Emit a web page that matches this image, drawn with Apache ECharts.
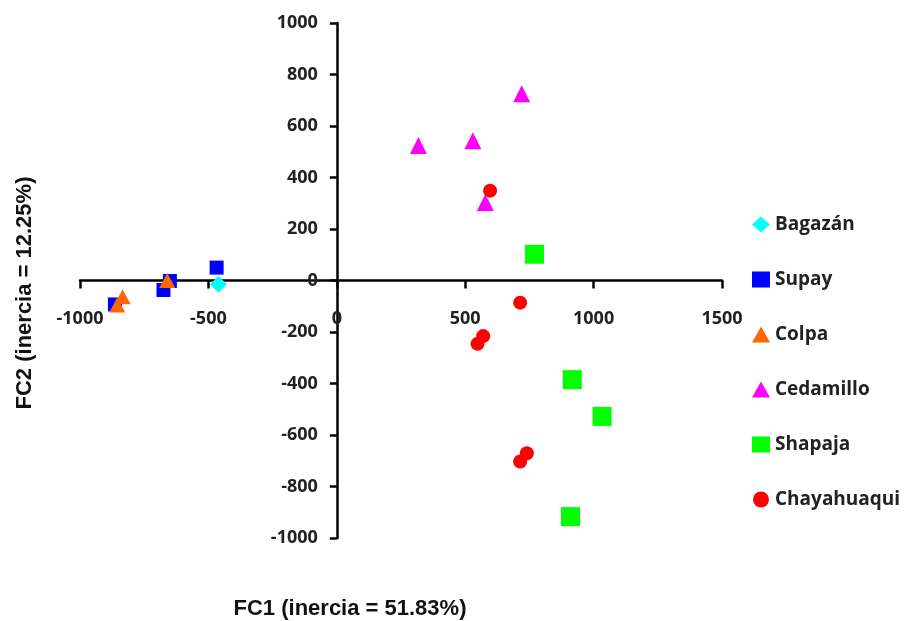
<!DOCTYPE html>
<html>
<head>
<meta charset="utf-8">
<script src="https://cdn.jsdelivr.net/npm/echarts@6/dist/echarts.min.js"></script>
<style>html,body{margin:0;padding:0;background:#fff}#c{width:905px;height:621px}</style>
</head>
<body>
<div id="c"></div>
<script>
const seriesNames = ['Bagazán', 'Supay', 'Colpa', 'Cedamillo', 'Shapaja', 'Chayahuaqui'];
const bagazan = [[-461, -15]];
const supay = [[-468, 50], [-675, -37], [-650, -2], [-864, -93]];
const colpa = [[-660, 0], [-834, -63], [-855, -95]];
const cedamillo = [[720, 725], [318, 524], [530, 543], [578, 303]];
const shapaja = [[770, 102], [917, -385], [1033, -528], [910, -917]];
const chayahuaqui = [[597, 349], [714, -86], [570, -216], [548, -246], [740, -671], [714, -703]];
const xTitle = 'FC1 (inercia = 51.83%)';
const yTitle = 'FC2 (inercia = 12.25%)';

const allData = [bagazan, supay, colpa, cedamillo, shapaja, chayahuaqui];
const colors = ['#00FFFF', '#0000FF', '#FF6600', '#FF00FF', '#00FF00', '#FF0000'];
const symbols = ['diamond', 'rect', 'triangle', 'triangle', 'rect', 'circle'];
const sizes = [17, 14, [16, 15], 17, 19, 14];

const chart = echarts.init(document.getElementById('c'), null, {renderer: 'canvas'});
const labelFont = {fontFamily: 'Open Sans', fontWeight: 'bold', fontSize: 18, color: '#222'};
const fmt = v => String(v);
chart.setOption({
  animation: false,
  backgroundColor: '#fff',
  grid: {left: 80, right: 183, top: 23, bottom: 83},
  xAxis: {
    type: 'value', min: -1000, max: 1500, interval: 500,
    axisLine: {onZero: false, lineStyle: {color: '#000', width: 2.5}},
    axisTick: {show: true, length: 8, lineStyle: {color: '#000', width: 2.5}},
    axisLabel: Object.assign({margin: 29, formatter: fmt}, labelFont),
    splitLine: {show: false}
  },
  yAxis: {
    type: 'value', min: -1000, max: 1000, interval: 200,
    axisLine: {onZero: false, lineStyle: {color: '#000', width: 2.5}},
    axisTick: {show: true, length: 7, lineStyle: {color: '#000', width: 2.5}},
    axisLabel: Object.assign({margin: 19, formatter: fmt}, labelFont),
    splitLine: {show: false}
  },
  legend: {
    orient: 'vertical', left: 747, top: 210, itemGap: 36,
    itemWidth: 18, itemHeight: 16,
    textStyle: {fontFamily: 'Open Sans', fontWeight: 'bold', fontSize: 19, color: '#222'},
    data: seriesNames
  },
  graphic: [
    {type: 'text', x: 350, y: 609, style: {text: xTitle, font: 'bold 22px "Liberation Sans"', fill: '#111', align: 'center', verticalAlign: 'middle'}},
    {type: 'text', x: 25, y: 293, rotation: Math.PI / 2, style: {text: yTitle, font: 'bold 22px "Liberation Sans"', fill: '#111', align: 'center', verticalAlign: 'middle'}}
  ],
  series: seriesNames.map((n, i) => ({
    name: n, type: 'scatter', data: allData[i],
    symbol: symbols[i], symbolSize: sizes[i],
    itemStyle: {color: colors[i], opacity: 1}
  }))
});
// Move axes so they cross at the data origin, using the library's own scales
const pZero = chart.convertToPixel({gridIndex: 0}, [0, 0]);
const pMin = chart.convertToPixel({gridIndex: 0}, [-1000, -1000]);
chart.setOption({
  xAxis: {offset: -(pMin[1] - pZero[1])},
  yAxis: {offset: -(pZero[0] - pMin[0])}
});
</script>
</body>
</html>
